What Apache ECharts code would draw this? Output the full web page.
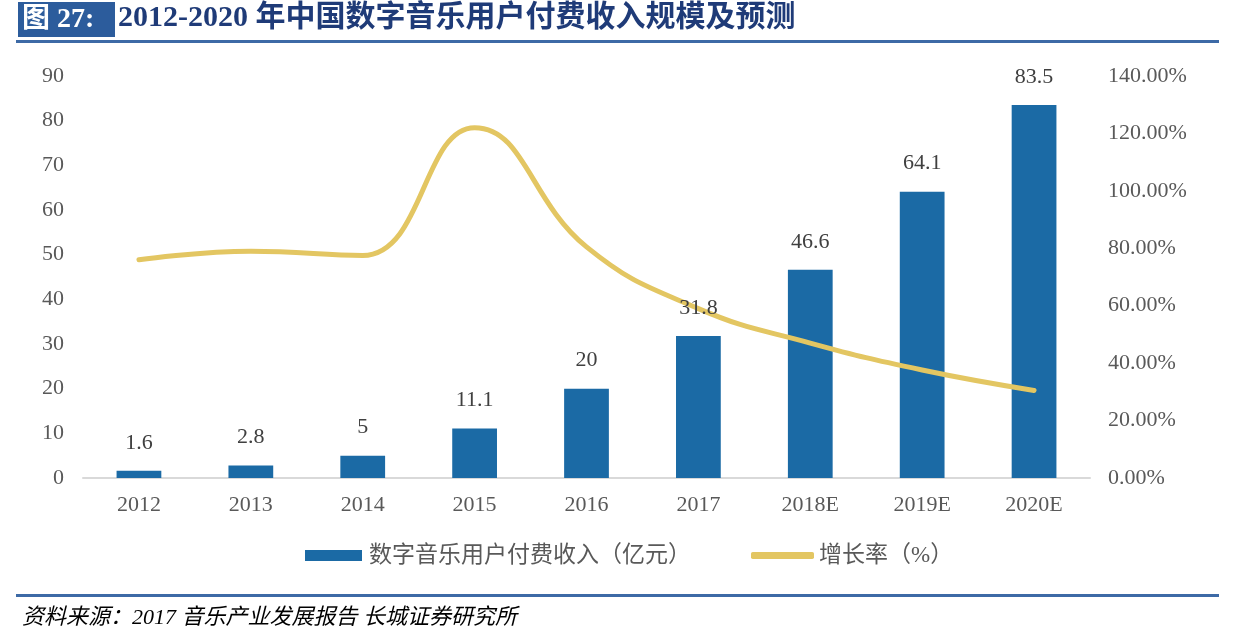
<!DOCTYPE html>
<html>
<head>
<meta charset="utf-8">
<script src="https://cdn.jsdelivr.net/npm/echarts@6/dist/echarts.min.js"></script>
<style>
html,body{margin:0;padding:0;background:#fff;}
#chart{width:1237px;height:633px;}
</style>
</head>
<body>
<div id="chart"></div>
<script>
const categories = ['2012','2013','2014','2015','2016','2017','2018E','2019E','2020E'];
const revenue = [1.6, 2.8, 5, 11.1, 20, 31.8, 46.6, 64.1, 83.5];
const growth = [76, 79, 77.5, 122, 80.5, 59, 47, 37.6, 30.5];
const leftTicks = {min: 0, max: 90, interval: 10};
const rightTicks = {min: 0, max: 140, interval: 20};
const barName = '数字音乐用户付费收入（亿元）';
const lineName = '增长率（%）';
const titleLabel = '图 27:';
const titleText = '2012-2020 年中国数字音乐用户付费收入规模及预测';
const sourceText = '资料来源：2017 音乐产业发展报告 长城证券研究所';

const serif = '"Liberation Serif", "Noto Sans CJK SC", serif';
const cjk = '"Liberation Serif", "Noto Sans CJK SC", sans-serif';

const chart = echarts.init(document.getElementById('chart'), null, {renderer: 'canvas'});
chart.setOption({
  animation: false,
  backgroundColor: '#fff',
  grid: {left: 83, right: 147, top: 76, bottom: 155, containLabel: false},
  legend: [
    {
      data: [barName], left: 300, top: 539, itemWidth: 57, itemHeight: 11, icon: 'rect',
      textStyle: {fontFamily: cjk, fontSize: 23, color: '#595959', padding: [0,0,0,2]}
    },
    {
      data: [lineName], left: 746, top: 539, itemWidth: 63, itemHeight: 7, icon: 'roundRect',
      itemStyle: {color: '#e3c662'},
      textStyle: {fontFamily: cjk, fontSize: 23, color: '#595959', padding: [0,0,0,0]}
    }
  ],
  xAxis: {
    type: 'category', data: categories,
    axisLine: {lineStyle: {color: '#d9d9d9', width: 2}},
    axisTick: {show: false},
    axisLabel: {fontFamily: serif, fontSize: 22, color: '#595959', margin: 16}
  },
  yAxis: [
    {
      type: 'value', min: leftTicks.min, max: leftTicks.max, interval: leftTicks.interval,
      splitLine: {show: false}, axisLine: {show: false}, axisTick: {show: false},
      axisLabel: {fontFamily: serif, fontSize: 22, color: '#595959', margin: 19}
    },
    {
      type: 'value', min: rightTicks.min, max: rightTicks.max, interval: rightTicks.interval,
      splitLine: {show: false}, axisLine: {show: false}, axisTick: {show: false},
      axisLabel: {fontFamily: serif, fontSize: 22, color: '#595959', margin: 18,
        formatter: v => v.toFixed(2) + '%'}
    }
  ],
  series: [
    {
      name: barName, type: 'bar', data: revenue, yAxisIndex: 0,
      barWidth: '40%', z: 1,
      itemStyle: {color: '#1b6aa5'}
    },
    {
      name: lineName, type: 'line', data: growth, yAxisIndex: 1,
      smooth: 0.45, symbol: 'none', z: 2,
      lineStyle: {color: '#e3c662', width: 5, cap: 'round'},
      itemStyle: {color: '#e3c662'}
    },
    {
      name: 'labels', type: 'bar', data: revenue, yAxisIndex: 0,
      barWidth: '40%', barGap: '-100%', z: 5, silent: true,
      itemStyle: {color: 'rgba(0,0,0,0)'},
      label: {show: true, position: 'top', distance: 17, fontFamily: serif, fontSize: 22, color: '#404040'}
    }
  ],
  graphic: [
    {type: 'rect', shape: {x: 18, y: 2, width: 97, height: 35}, style: {fill: '#2c5c9c'}},
    {type: 'text', left: 22, top: 6, style: {text: titleLabel, font: 'bold 28px "Liberation Serif", "Noto Sans CJK SC", serif', fill: '#fff'}},
    {type: 'text', left: 118, top: 3, style: {text: titleText, font: 'bold 30px "Liberation Serif", "Noto Sans CJK SC", serif', fill: '#1f3b78'}},
    {type: 'rect', shape: {x: 16, y: 40, width: 1203, height: 3}, style: {fill: '#3d6aa6'}},
    {type: 'rect', shape: {x: 16, y: 594, width: 1203, height: 3}, style: {fill: '#3d6aa6'}},
    {type: 'text', left: 22, top: 607, style: {text: sourceText, font: 'italic 22px "Liberation Serif", "Noto Sans CJK SC", serif', fill: '#000'}}
  ]
});
</script>
</body>
</html>
